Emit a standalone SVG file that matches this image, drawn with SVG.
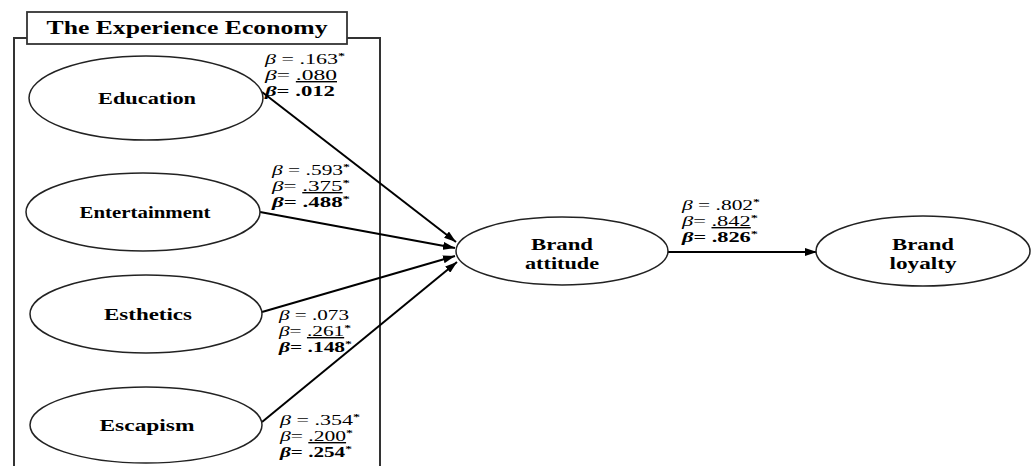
<svg xmlns="http://www.w3.org/2000/svg" width="1032" height="466" viewBox="0 0 1032 466">
<defs>
<marker id="ah" viewBox="0 0 12 8" refX="12" refY="4" markerWidth="12" markerHeight="8" markerUnits="userSpaceOnUse" orient="auto">
<path d="M0,0 L12,4 L0,8 Z" fill="#000"/>
</marker>
</defs>
<style>
.node ellipse{fill:#fff;stroke:#222;stroke-width:1.5}
.lbl{font-family:"Liberation Serif","Times New Roman",serif;font-weight:bold;font-size:16.5px;fill:#000;text-anchor:middle}
.b{font-family:"Liberation Serif","Times New Roman",serif;font-size:14px;fill:#000}
.g{font-style:italic}
.u{text-decoration:underline}
.bd{font-weight:bold}
.s{font-size:9px;font-weight:bold}
.conn line{stroke:#000;stroke-width:2;marker-end:url(#ah)}
</style>
<rect width="1032" height="466" fill="#fff"/>
<g id="frame">
<path d="M14,466 L14,38 L380,38 L380,466" fill="none" stroke="#333" stroke-width="2"/>
<rect x="27" y="12" width="320" height="32" fill="#fff" stroke="#333" stroke-width="1.8"/>
<text x="187" y="34" class="lbl" style="font-size:18px" textLength="281" lengthAdjust="spacingAndGlyphs">The Experience Economy</text>
</g>
<g class="conn" id="connectors">
<line x1="262" y1="92" x2="456" y2="242"/>
<line x1="260" y1="212" x2="455" y2="248"/>
<line x1="262" y1="312" x2="455" y2="256"/>
<line x1="262" y1="422" x2="457" y2="262"/>
<line x1="668" y1="252" x2="817" y2="252"/>
</g>
<g class="node" id="education">
<ellipse cx="146" cy="98" rx="117" ry="42"/>
<text x="147" y="104" class="lbl" textLength="98" lengthAdjust="spacingAndGlyphs">Education</text>
</g>
<g class="node" id="entertainment">
<ellipse cx="143" cy="212" rx="117" ry="39"/>
<text x="145" y="218" class="lbl" textLength="131" lengthAdjust="spacingAndGlyphs">Entertainment</text>
</g>
<g class="node" id="esthetics">
<ellipse cx="146" cy="314" rx="116" ry="39"/>
<text x="148" y="320" class="lbl" textLength="88" lengthAdjust="spacingAndGlyphs">Esthetics</text>
</g>
<g class="node" id="escapism">
<ellipse cx="146" cy="425" rx="116" ry="38"/>
<text x="147" y="431" class="lbl" textLength="95" lengthAdjust="spacingAndGlyphs">Escapism</text>
</g>
<g class="node" id="brand-attitude">
<ellipse cx="562" cy="251" rx="106" ry="34"/>
<text x="562" y="250" class="lbl" textLength="62" lengthAdjust="spacingAndGlyphs">Brand</text>
<text x="562" y="269" class="lbl" textLength="74" lengthAdjust="spacingAndGlyphs">attitude</text>
</g>
<g class="node" id="brand-loyalty">
<ellipse cx="923" cy="251" rx="107" ry="35"/>
<text x="923" y="250" class="lbl" textLength="62" lengthAdjust="spacingAndGlyphs">Brand</text>
<text x="923" y="269" class="lbl" textLength="67" lengthAdjust="spacingAndGlyphs">loyalty</text>
</g>
<g id="coef-education">
<text x="265" y="64" class="b" textLength="80" lengthAdjust="spacingAndGlyphs"><tspan class="g">β</tspan> = .163<tspan class="s" dy="-5">*</tspan></text>
<text x="265" y="80" class="b" textLength="72" lengthAdjust="spacingAndGlyphs"><tspan class="g">β</tspan>= <tspan class="u">.080</tspan></text>
<text x="265" y="96" class="b bd" textLength="70" lengthAdjust="spacingAndGlyphs"><tspan class="g">β</tspan>= .012</text>
</g>
<g id="coef-entertainment">
<text x="272" y="175" class="b" textLength="78" lengthAdjust="spacingAndGlyphs"><tspan class="g">β</tspan> = .593<tspan class="s" dy="-5">*</tspan></text>
<text x="272" y="191" class="b" textLength="78" lengthAdjust="spacingAndGlyphs"><tspan class="g">β</tspan>= <tspan class="u">.375</tspan><tspan class="s" dy="-5">*</tspan></text>
<text x="272" y="207" class="b bd" textLength="78" lengthAdjust="spacingAndGlyphs"><tspan class="g">β</tspan>= .488<tspan class="s" dy="-5">*</tspan></text>
</g>
<g id="coef-esthetics">
<text x="279" y="320" class="b" textLength="70" lengthAdjust="spacingAndGlyphs"><tspan class="g">β</tspan> = .073</text>
<text x="279" y="336" class="b" textLength="72" lengthAdjust="spacingAndGlyphs"><tspan class="g">β</tspan>= <tspan class="u">.261</tspan><tspan class="s" dy="-5">*</tspan></text>
<text x="279" y="352" class="b bd" textLength="73" lengthAdjust="spacingAndGlyphs"><tspan class="g">β</tspan>= .148<tspan class="s" dy="-5">*</tspan></text>
</g>
<g id="coef-escapism">
<text x="280" y="425" class="b" textLength="80" lengthAdjust="spacingAndGlyphs"><tspan class="g">β</tspan> = .354<tspan class="s" dy="-5">*</tspan></text>
<text x="280" y="441" class="b" textLength="73" lengthAdjust="spacingAndGlyphs"><tspan class="g">β</tspan>= <tspan class="u">.200</tspan><tspan class="s" dy="-5">*</tspan></text>
<text x="280" y="457" class="b bd" textLength="72" lengthAdjust="spacingAndGlyphs"><tspan class="g">β</tspan>= .254<tspan class="s" dy="-5">*</tspan></text>
</g>
<g id="coef-attitude-loyalty">
<text x="682" y="210" class="b" textLength="78" lengthAdjust="spacingAndGlyphs"><tspan class="g">β</tspan> = .802<tspan class="s" dy="-5">*</tspan></text>
<text x="682" y="226" class="b" textLength="76" lengthAdjust="spacingAndGlyphs"><tspan class="g">β</tspan>= <tspan class="u">.842</tspan><tspan class="s" dy="-5">*</tspan></text>
<text x="682" y="242" class="b bd" textLength="76" lengthAdjust="spacingAndGlyphs"><tspan class="g">β</tspan>= .826<tspan class="s" dy="-5">*</tspan></text>
</g>
</svg>
